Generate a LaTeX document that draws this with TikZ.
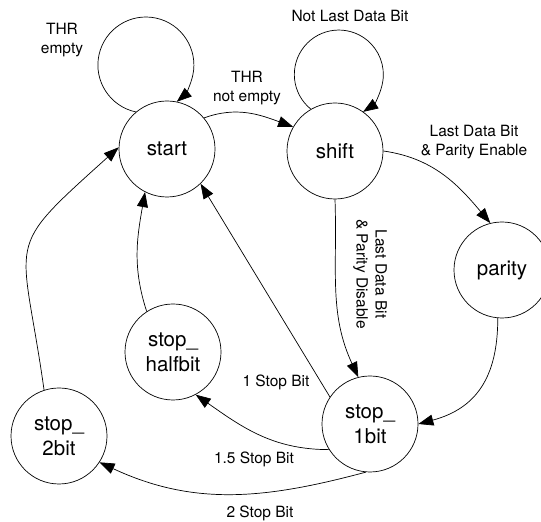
\documentclass[tikz,border=0pt]{standalone}
\usepackage{fontspec}
\setmainfont{TeX Gyre Heros}
\usetikzlibrary{arrows.meta}

\begin{document}
\begin{tikzpicture}[x=1pt, y=1pt,
	state/.style={draw, circle, line width=0.7pt, minimum size=96pt, inner sep=0pt, align=center, font=\fontsize{20.5}{25}\selectfont},
	cond/.style={align=center, font=\fontsize{15.5}{19}\selectfont},
	trans/.style={->, line width=0.7pt}]
	\begin{scope}[>={Triangle[length=15pt, width=11pt]}] %for filled arrow tips
	\useasboundingbox (0,0) rectangle (541,522);
	
	\pgfmathsetmacro\rLoop{48}
	
	\node (start) at (167, 373) [state] {start};
	\node (shift) at (335, 371) [state] {shift};
	\node (parity) at (502, 252) [state] {parity};
	\node (stop1) at (370, 98) [state] {stop\_\\1bit};
	\node (stophalf) at (173, 170) [state] {stop\_\\halfbit};
	\node (stop2) at (59, 86) [state] {stop\_\\2bit};
	
	% self loops
	\draw[trans] (start.130) arc[start angle=258, end angle=-50, radius=\rLoop];
	\draw[trans] (shift.120) arc[start angle=231, end angle=-57, radius=44.5];
	
	\draw[trans] (start.40) to[out=20, in=160] (shift.150);
	\draw[trans] (shift.0) to[out=-8, in=130] (parity.104);
	\draw[trans] (shift.270) to[out=-88, in=115] (stop1.104);
	\draw[trans] (parity.265) to[out=-90, in=15, looseness=1.15] (stop1.0);
	
	\draw[trans] (stop1.146) -- (start.-46);
	\draw[trans] (stop1.212) to[out=180, in=-35] (stophalf.-62);
	\draw[trans] (stop1.-95) to[out=195, in=-25] (stop2.-33);
	
	\draw[trans] (stophalf.123) to[out=108, in=-100] (start.-117);
	\draw[trans] (stop2.108) to[out=98, in=-138, looseness=1.6] (start.178);
	
	%conditions
	\node (thrEmpty) at (62, 482) [cond] {THR\\empty};
	\node (thrNotEmpty) at (247, 434) [cond] {THR\\not empty};
	\node (notLast) at (350, 506) [cond] {Not Last Data Bit};
	\node (parEnable) at (474, 380) [cond] {Last Data Bit\\\& Parity Enable};
	\node (parDisable) at (370, 248) [cond, rotate=-90] {Last Data Bit\\\& Parity Disable};
	\node (oneStop) at (276, 140) [cond] {1 Stop Bit};
	\node (halfStop) at (254, 63) [cond] {1.5 Stop Bit};
	\node (twoStop) at (260, 9) [cond] {2 Stop Bit};
	
	\end{scope}
\end{tikzpicture}
\end{document}
